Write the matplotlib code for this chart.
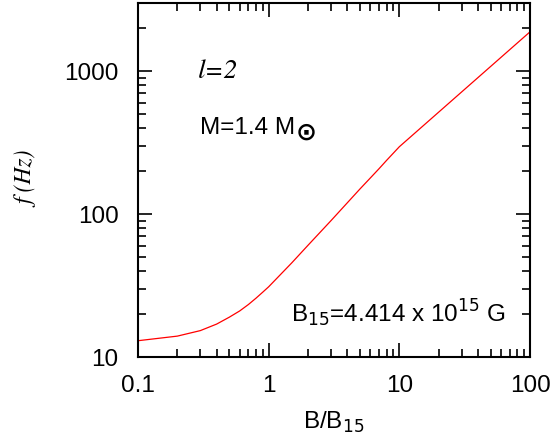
import numpy as np
import matplotlib
matplotlib.use("Agg")
import matplotlib.pyplot as plt
from matplotlib.ticker import LogLocator, NullFormatter, FixedLocator, FixedFormatter

# B/B15 values and mode frequency (Hz)
b_ratio = [0.1, 0.2, 0.3, 0.4, 0.5, 0.6, 0.7, 0.8, 0.9, 1, 1.5, 2, 3, 4, 5, 6, 7, 8, 9, 10, 100]
freq = [13.0, 14.0, 15.3, 17.0, 19.0, 21.0, 23.3, 25.8, 28.4, 31.0, 45.5,
        60.5, 90.0, 120.0, 150.0, 179.0, 208.0, 238.0, 267.0, 296.0, 1885.0]

x_ticks = [0.1, 1, 10, 100]
x_labels = ["0.1", "1", "10", "100"]
y_ticks = [10, 100, 1000]
y_labels = ["10", "100", "1000"]

plt.rcParams['font.family'] = ['Liberation Sans', 'DejaVu Sans']

fig = plt.figure(figsize=(5.56, 4.4), dpi=100)
ax = fig.add_axes([138/556, 1-357/440, (530-138)/556, (357-3)/440])

ax.plot(b_ratio, freq, color='red', lw=0.9)

ax.set_xscale('log')
ax.set_yscale('log')
ax.set_xlim(0.1, 100)
ax.set_ylim(10, 3000)

ax.xaxis.set_major_locator(FixedLocator(x_ticks))
ax.xaxis.set_major_formatter(FixedFormatter(x_labels))
ax.yaxis.set_major_locator(FixedLocator(y_ticks))
ax.yaxis.set_major_formatter(FixedFormatter(y_labels))
ax.xaxis.set_minor_locator(LogLocator(base=10, subs=np.arange(2, 10)))
ax.yaxis.set_minor_locator(LogLocator(base=10, subs=np.arange(2, 10)))
ax.xaxis.set_minor_formatter(NullFormatter())
ax.yaxis.set_minor_formatter(NullFormatter())

ax.tick_params(which='both', direction='in', top=True, right=True, width=1.2)
ax.tick_params(which='major', length=10, labelsize=17.5)
ax.tick_params(axis='x', which='major', pad=13)
ax.tick_params(axis='y', which='major', pad=14)
ax.tick_params(which='minor', length=6)
for s in ax.spines.values():
    s.set_linewidth(1.5)

ax.set_xlabel("B/B$_{15}$", fontsize=17.5, labelpad=9)
ax.set_ylabel("f (Hz)", fontsize=17, family='STIXGeneral', style='italic', labelpad=18)

fig.text(198/556, 1-72/440, "l=2", fontsize=20, family='STIXGeneral',
         style='italic', va='center', ha='left')
fig.text(200/556, 1-128/440, "M=1.4 M", fontsize=17.5, va='center', ha='left')
fig.text(296/556, 1-133/440, "\u2299", fontsize=18, fontweight='bold',
         family='DejaVu Sans', va='center', ha='left')
fig.text(291/556, 1-313/440, "B$_{15}$=4.414 x 10$^{15}$ G",
         fontsize=17.5, va='center', ha='left')

fig.savefig("out.png", dpi=100)
